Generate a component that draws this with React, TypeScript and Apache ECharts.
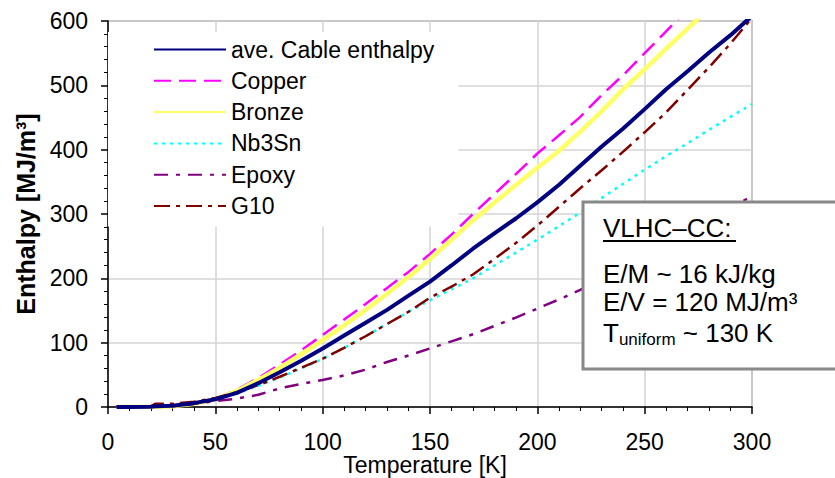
import React, { useEffect, useRef } from "react";
import * as echarts from "echarts";

// Temperature grid [K]
const temperature = [4, 10, 20, 22, 30, 40, 50, 60, 70, 80, 90, 100, 110, 120, 130, 140, 150, 160, 170, 180, 190, 200, 210, 220, 230, 240, 250, 260, 270, 280, 290, 300];

// Enthalpy [MJ/m^3]
const cableEnthalpy = [0, 0, 0.5, 1, 2, 6, 12, 22, 37, 54, 72, 91, 111, 131, 151, 173, 195, 220, 246, 270, 293, 318, 345, 375, 405, 433, 463, 494, 522, 551, 578, 608];
const copper = [0, 0, 0.5, 1, 2, 6, 13, 27, 45, 66, 88, 112, 136, 160, 185, 210, 238, 268, 300, 331, 362, 394, 422, 451, 485, 516, 550, 584, 618, 652, 686, 720];
const bronze = [0, 0, 0, 0, 1, 5, 12, 25, 42, 61, 82, 104, 127, 151, 176, 202, 230, 260, 290, 318, 345, 372, 398, 428, 460, 494, 525, 557, 588, 620, 650, 680];
const nb3sn = [0, 0, 0, 0.5, 2, 6, 12, 21, 33, 46, 60, 75, 92, 110, 129, 148, 166, 183, 200, 220, 240, 260, 281, 302, 325, 347, 369, 390, 410, 431, 451, 471];
const epoxy = [0, 0, 0, 0, 1, 5, 9, 13, 19, 29, 36, 42, 49, 58, 70, 80, 91, 102, 113, 126, 139, 153, 167, 182, 198, 215, 233, 252, 271, 290, 309, 328];
const g10 = [1, 1, 1, 5, 5, 8, 14, 23, 34, 47, 61, 75, 92, 110, 129, 148, 170, 187, 206, 230, 255, 282, 311, 340, 368, 397, 427, 458, 493, 528, 565, 605];

const seriesNames = ["ave. Cable enthalpy", "Copper", "Bronze", "Nb3Sn", "Epoxy", "G10"];

const xMin = 0, xMax = 300, xInterval = 50;
const yMin = 0, yMax = 600, yInterval = 100;

const xTitle = "Temperature [K]";
const yTitle = "Enthalpy [MJ/m³]";
const boxLines = ["VLHC–CC:", "E/M ~ 16 kJ/kg", "E/V = 120 MJ/m³"];

const FONT = "'Liberation Sans', Arial, Helvetica, sans-serif";

function pairs(values: number[]) {
  return temperature.map((t, i) => [t, values[i]]);
}

export default function App() {
  const ref = useRef<HTMLDivElement>(null);

  useEffect(() => {
    document.body.style.margin = "0";
    const chart = echarts.init(ref.current!, null, { renderer: "svg", width: 835, height: 478 });

    const styles = [
      { color: "#000080", width: 4, type: "solid" as any },
      { color: "#FF00FF", width: 2.5, type: [17, 8] as any },
      { color: "#FFFF66", width: 4.5, type: "solid" as any },
      { color: "#00FFFF", width: 2.5, type: [3, 5] as any },
      { color: "#800080", width: 2.5, type: [14, 8, 4, 8] as any },
      { color: "#800000", width: 2.5, type: [16, 6, 4, 6] as any },
    ];
    const data = [cableEnthalpy, copper, bronze, nb3sn, epoxy, g10];
    const zs = [8, 3, 4, 5, 6, 7];

    const series = seriesNames.map((name, i) => ({
      name,
      type: "line",
      data: pairs(data[i]),
      symbol: "none",
      showSymbol: false,
      clip: true,
      z: zs[i],
      lineStyle: {
        color: styles[i].color,
        width: styles[i].width,
        type: styles[i].type,
        cap: "butt",
      },
      itemStyle: { color: styles[i].color },
    }));

    chart.setOption({
      animation: false,
      backgroundColor: "#fff",
      textStyle: { fontFamily: FONT },
      grid: {
        left: 108,
        top: 21,
        right: 83,
        bottom: 71,
        outerBoundsMode: "none",
        containLabel: false,
        show: true,
        borderColor: "#888",
        borderWidth: 1.5,
        backgroundColor: "transparent",
      },
      legend: {
        orient: "vertical",
        left: 108,
        top: 32,
        padding: [6, 24, 9, 45],
        backgroundColor: "#fff",
        itemWidth: 72,
        itemHeight: 20,
        itemGap: 8.3,
        itemStyle: { opacity: 0 },
        textStyle: { fontSize: 23, color: "#000", fontFamily: FONT },
        data: seriesNames,
        selectedMode: false,
        z: 20,
      },
      xAxis: {
        type: "value",
        min: xMin,
        max: xMax,
        interval: xInterval,
        axisLine: { show: true, onZero: false, lineStyle: { color: "#000", width: 1.5 } },
        axisTick: { show: true, inside: false, length: 7, lineStyle: { color: "#000", width: 1.5 } },
        minorTick: { show: true, splitNumber: 5, length: 4, lineStyle: { color: "#000", width: 1 } },
        axisLabel: { fontSize: 23, color: "#000", margin: 23, fontFamily: FONT },
        splitLine: { show: true, lineStyle: { color: "#d4d4d4", width: 1.5 } },
      },
      yAxis: {
        type: "value",
        min: yMin,
        max: yMax,
        interval: yInterval,
        name: yTitle,
        nameLocation: "middle",
        nameGap: 70,
        nameRotate: 90,
        nameTextStyle: { fontSize: 25, fontWeight: "bold", color: "#000", fontFamily: FONT },
        axisLine: { show: true, onZero: false, lineStyle: { color: "#000", width: 1.5 } },
        axisTick: { show: true, inside: false, length: 7, lineStyle: { color: "#000", width: 1.5 } },
        minorTick: { show: true, splitNumber: 5, length: 4, lineStyle: { color: "#000", width: 1 } },
        axisLabel: { fontSize: 23, color: "#000", margin: 20, fontFamily: FONT },
        splitLine: { show: true, lineStyle: { color: "#d4d4d4", width: 1.5 } },
      },
      graphic: [
        {
          type: "text",
          z: 50,
          x: 425,
          y: 465,
          style: { text: xTitle, font: `23px ${FONT}`, fill: "#000", verticalAlign: "middle", align: "center" },
        },
        {
          type: "rect",
          z: 100,
          shape: { x: 583, y: 202, width: 280, height: 167 },
          style: { fill: "#fff", stroke: "#888", lineWidth: 3 },
        },
        {
          type: "text",
          z: 101,
          x: 603,
          y: 228,
          style: { text: boxLines[0], font: `26px ${FONT}`, fill: "#000", verticalAlign: "middle", align: "left" },
        },
        {
          type: "line",
          z: 101,
          shape: { x1: 603, y1: 241, x2: 736, y2: 241 },
          style: { stroke: "#000", lineWidth: 2 },
        },
        {
          type: "text",
          z: 101,
          x: 603,
          y: 274,
          style: { text: boxLines[1], font: `26px ${FONT}`, fill: "#000", verticalAlign: "middle", align: "left" },
        },
        {
          type: "text",
          z: 101,
          x: 603,
          y: 302,
          style: { text: boxLines[2], font: `26px ${FONT}`, fill: "#000", verticalAlign: "middle", align: "left" },
        },
        {
          type: "text",
          z: 101,
          x: 603,
          y: 318,
          style: {
            text: "{t|T}{s|uniform}{t| ~ 130 K}",
            fill: "#000",
            verticalAlign: "top",
            align: "left",
            rich: {
              t: { fontSize: 26, fontFamily: FONT, lineHeight: 30, color: "#000" },
              s: { fontSize: 17, fontFamily: FONT, lineHeight: 14, verticalAlign: "bottom", color: "#000" },
            },
          },
        },
      ],
      series,
    });

    return () => chart.dispose();
  }, []);

  return <div ref={ref} style={{ width: 835, height: 478 }} />;
}
